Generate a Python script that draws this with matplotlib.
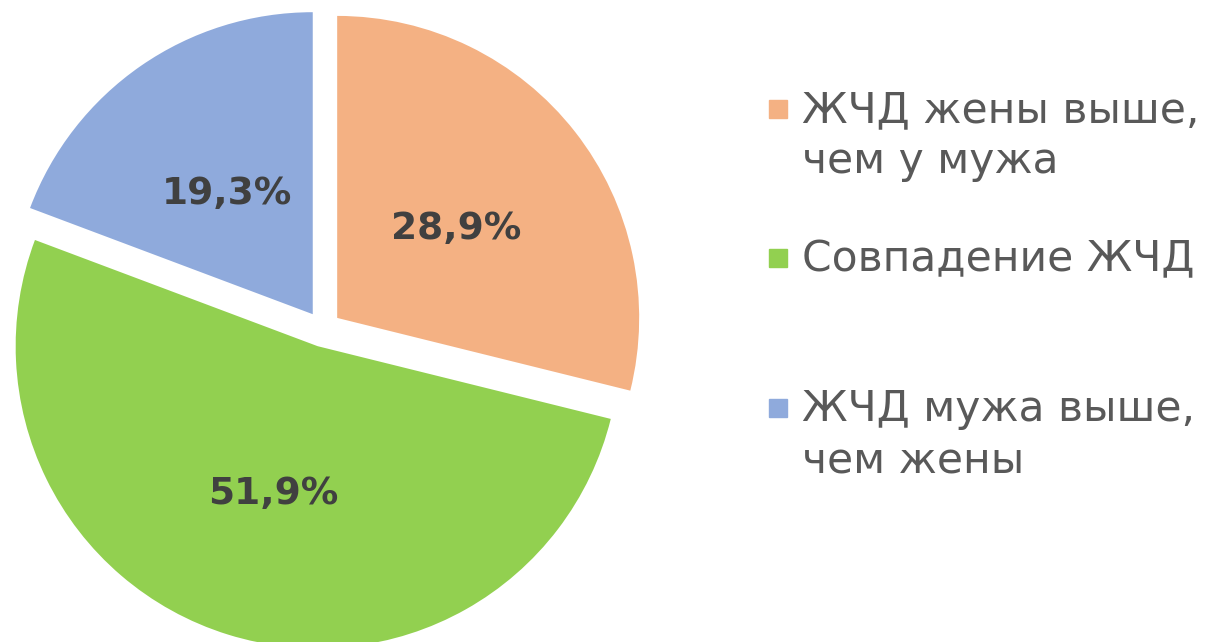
import matplotlib.pyplot as plt
from matplotlib.patches import Rectangle

labels = ["ЖЧД жены выше,\nчем у мужа", "Совпадение ЖЧД", "ЖЧД мужа выше,\nчем жены"]
shares = [28.9, 51.9, 19.3]
colors = ["#F4B183", "#92D050", "#8FAADC"]

W, H = 1207, 642
fig = plt.figure(figsize=(W / 100, H / 100), dpi=100)
ax = fig.add_axes([0, 0, 1, 1])

wedges, texts, autotexts = ax.pie(
    shares, colors=colors, startangle=90, counterclock=False,
    center=(323, 313), radius=302, explode=[18] * 3,
    autopct=lambda p: "", pctdistance=0.5,
    textprops=dict(color="#404040", fontsize=27, fontweight="bold"),
)
for t, v in zip(autotexts, shares):
    t.set_text(("%.1f%%" % v).replace(".", ","))
    t.set_y(t.get_position()[1] - 4)
ax.set_xlim(0, W)
ax.set_ylim(0, H)
ax.set_aspect("equal")
ax.axis("off")

# legend drawn by hand: Excel spaces the entries unevenly
first_base = [123, 272, 422]
for lab, col, y in zip(labels, colors, first_base):
    fig.patches.append(Rectangle((769 / W, 1 - (y - 5) / H), 18 / W, 18 / H,
                                 transform=fig.transFigure, color=col))
    fig.text(802 / W, 1 - (y - 34) / H, lab, fontsize=30.5, color="#595959",
             va="top", ha="left", linespacing=1.28)

fig.savefig("out.png", dpi=100)
